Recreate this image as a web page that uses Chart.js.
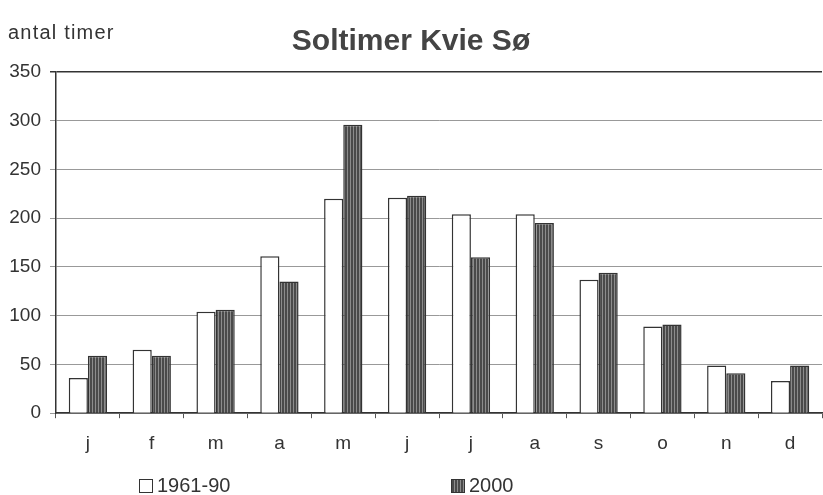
<!DOCTYPE html>
<html>
<head>
<meta charset="utf-8">
<script src="https://cdn.jsdelivr.net/npm/chart.js@4/dist/chart.umd.min.js"></script>
<style>
  body { margin: 0; background: #fff; font-family: "Liberation Sans", Arial, sans-serif; }
  #wrap { position: relative; width: 823px; height: 495px; }
  #unit { position: absolute; left: 8px; top: 21px; font-size: 20px; letter-spacing: 1.2px; color: #333; }
  .leg { position: absolute; top: 474px; font-size: 20px; color: #333; display: flex; align-items: center; }
  .box { width: 14px; height: 14px; border: 1.5px solid #333; margin-right: 4px; box-sizing: border-box; }
  .hatch { background: repeating-linear-gradient(90deg, #4a4a4a 0 2px, #8c8c8c 2px 3px); }
</style>
</head>
<body>
<div id="wrap">
  <canvas id="c" width="823" height="495"></canvas>
  <div id="unit">antal timer</div>
  <div class="leg" style="left:139px"><span class="box"></span>1961-90</div>
  <div class="leg" style="left:451px"><span class="box hatch"></span>2000</div>
</div>
<script>
const months = ["j", "f", "m", "a", "m", "j", "j", "a", "s", "o", "n", "d"];
const normal6190 = [36, 65, 104, 161, 220, 221, 204, 204, 137, 89, 49, 33];
const year2000 = [59, 59, 106, 135, 296, 223, 160, 195, 144, 91, 41, 49];
const yTicks = [0, 50, 100, 150, 200, 250, 300, 350];

// dark bars: grey with fine vertical stripes
const pc = document.createElement("canvas");
pc.width = 3; pc.height = 3;
const px = pc.getContext("2d");
px.fillStyle = "#4a4a4a";
px.fillRect(0, 0, 3, 3);
px.fillStyle = "#8c8c8c";
px.fillRect(2, 0, 1, 3);
const ctx = document.getElementById("c").getContext("2d");
const hatch = ctx.createPattern(pc, "repeat");

new Chart(ctx, {
  type: "bar",
  data: {
    labels: months,
    datasets: [
      { label: "1961-90", data: normal6190, backgroundColor: "#fff", borderColor: "#333", borderWidth: 1.5 },
      { label: "2000", data: year2000, backgroundColor: hatch, borderColor: "#333", borderWidth: 1.5 },
    ],
  },
  options: {
    responsive: false,
    animation: false,
    layout: { padding: { left: 0, right: 1, top: 0, bottom: 26 } },
    categoryPercentage: 0.6,
    barPercentage: 1.0,
    plugins: {
      legend: { display: false },
      tooltip: { enabled: false },
      title: {
        display: true,
        text: "Soltimer Kvie Sø",
        color: "#444",
        font: { family: "Liberation Sans", size: 30, weight: "bold" },
        padding: { top: 24, bottom: 12 },
      },
    },
    scales: {
      x: {
        grid: {
          offset: true,
          drawOnChartArea: false,
          drawTicks: true,
          tickLength: 5,
          color: "#555",
        },
        border: { color: "#333", width: 1.5 },
        ticks: { color: "#333", font: { family: "Liberation Sans", size: 19 }, padding: 14 },
      },
      y: {
        min: 0,
        max: 350,
        afterBuildTicks: (axis) => { axis.ticks = yTicks.map((v) => ({ value: v })); },
        afterFit: (axis) => { axis.width = 56; },
        grid: {
          color: (c) => (c.tick && c.tick.value === 350 ? "#333" : "#999"),
          lineWidth: (c) => (c.tick && c.tick.value === 350 ? 1.5 : 1),
          tickLength: 6,
        },
        border: { color: "#333", width: 1.5 },
        ticks: { color: "#333", font: { family: "Liberation Sans", size: 19 }, padding: 9 },
      },
    },
  },
});
</script>
</body>
</html>
